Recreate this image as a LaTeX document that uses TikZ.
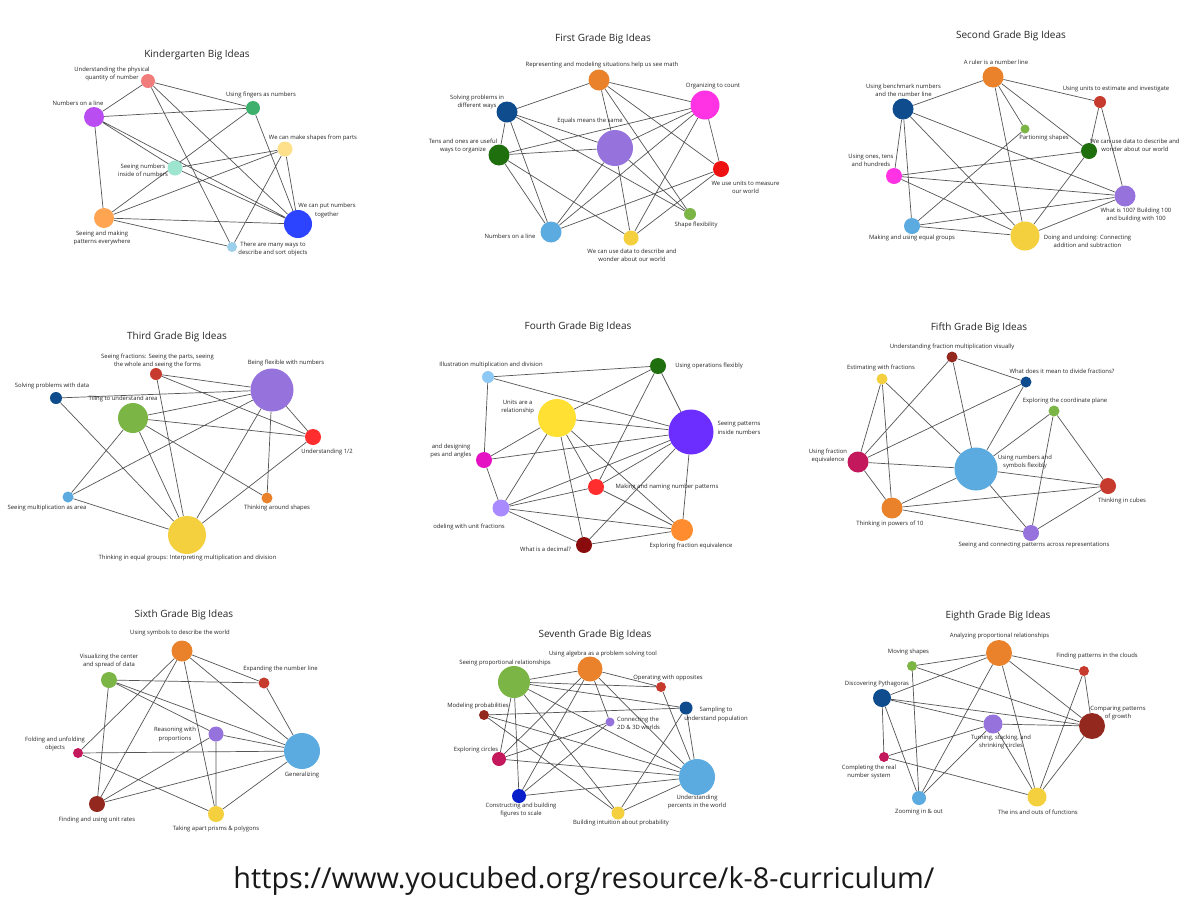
\documentclass[tikz,border=0pt]{standalone}
\usepackage{fontspec}
\setmainfont{Open Sans}
\usepackage{xcolor}
\usepackage{tikz}
\usetikzlibrary{positioning}

\definecolor{cSalmon}{HTML}{F07C7C}
\definecolor{cJade}{HTML}{3DB06E}
\definecolor{cOrchid}{HTML}{B94DF2}
\definecolor{cButter}{HTML}{FFE08A}
\definecolor{cMint}{HTML}{9DE5CF}
\definecolor{cPeach}{HTML}{FFA552}
\definecolor{cRoyal}{HTML}{2C44FF}
\definecolor{cSky}{HTML}{9CCFEA}
\definecolor{cTangerine}{HTML}{E9822B}
\definecolor{cFuchsia}{HTML}{FF33E3}
\definecolor{cNavy}{HTML}{0E4C8E}
\definecolor{cLilac}{HTML}{9572DC}
\definecolor{cForest}{HTML}{1F6F0E}
\definecolor{cScarlet}{HTML}{EE1111}
\definecolor{cLeaf}{HTML}{7BB545}
\definecolor{cAzure}{HTML}{5BAAE0}
\definecolor{cGold}{HTML}{F5D03E}
\definecolor{cBrick}{HTML}{C63B2E}
\definecolor{cCherry}{HTML}{FF2D2D}
\definecolor{cIce}{HTML}{8EC8F5}
\definecolor{cLemon}{HTML}{FFE033}
\definecolor{cViolet}{HTML}{6B2EFF}
\definecolor{cMagenta}{HTML}{E512C4}
\definecolor{cLavender}{HTML}{A98BFF}
\definecolor{cOrange}{HTML}{FF8C2E}
\definecolor{cMaroon}{HTML}{8A0B0B}
\definecolor{cWine}{HTML}{93281F}
\definecolor{cRaspberry}{HTML}{C3195C}
\definecolor{cBlue}{HTML}{0A1FCC}
\definecolor{wiregray}{HTML}{555555}

\newcommand{\ideafont}{\fontsize{5.9}{8.3}\selectfont}
\newcommand{\headfont}{\fontsize{10}{12}\selectfont}
\newcommand{\webfont}{\fontsize{28.8}{32}\selectfont}

\pgfdeclarelayer{paper}
\pgfdeclarelayer{wires}
\pgfsetlayers{paper,wires,main}

\begin{document}
\begin{tikzpicture}
						[
						   x = 1pt, y = -1pt,
						   idea/.style = {circle, inner sep=0pt, minimum size=#1},
						   lbl/.style = {font=\ideafont, align=center, inner sep=0pt, text=black!85},
						   heading/.style = {font=\headfont, inner sep=0pt, text=black!85},
						   link/.style = {draw=wiregray, line width=0.7pt},
						]
						\begin{pgfonlayer}{paper}
							\fill[white] (0,0) rectangle (1200,911);
						\end{pgfonlayer}
						\useasboundingbox (0,0) rectangle (1200,911);

						% Kindergarten
						\node[heading] (kHead) at (197,55) {Kindergarten Big Ideas};
						\node[idea=14, fill=cSalmon] (kQuant) at (148,81) {};
						\node[idea=14, fill=cJade] (kFing) at (253,108) {};
						\node[idea=20, fill=cOrchid] (kLine) at (94,117) {};
						\node[idea=15, fill=cButter] (kShape) at (285,149) {};
						\node[idea=15, fill=cMint] (kInside) at (175,168) {};
						\node[idea=20, fill=cPeach] (kPatt) at (104,218) {};
						\node[idea=28, fill=cRoyal] (kTog) at (298,224) {};
						\node[idea=10, fill=cSky] (kSort) at (232,247) {};
						\node[lbl] (kQuantL) at (112,74) {Understanding the physical\\quantity of number};
						\node[lbl] (kFingL) at (261,95) {Using fingers as numbers};
						\node[lbl] (kLineL) at (78,103) {Numbers on a line};
						\node[lbl] (kShapeL) at (313,138) {We can make shapes from parts};
						\node[lbl] (kInsideL) at (143,170) {Seeing numbers\\inside of numbers};
						\node[lbl] (kPattL) at (102,238) {Seeing and making\\patterns everywhere};
						\node[lbl] (kTogL) at (327,210.5) {We can put numbers\\together};
						\node[lbl] (kSortL) at (273,249) {There are many ways to\\describe and sort objects};

						% First grade
						\node[heading] (aHead) at (603,39) {First Grade Big Ideas};
						\node[idea=21, fill=cTangerine] (aRep) at (599,80) {};
						\node[idea=29, fill=cFuchsia] (aOrg) at (705,105) {};
						\node[idea=21, fill=cNavy] (aSolve) at (507,112) {};
						\node[idea=36, fill=cLilac] (aEq) at (615,148) {};
						\node[idea=21, fill=cForest] (aTens) at (499,155) {};
						\node[idea=16, fill=cScarlet] (aUnits) at (721,169) {};
						\node[idea=12, fill=cLeaf] (aShape) at (690,214) {};
						\node[idea=21, fill=cAzure] (aLine) at (551,232) {};
						\node[idea=15, fill=cGold] (aData) at (631,238) {};
						\node[lbl] (aRepL) at (602,65) {Representing and modeling situations help us see math};
						\node[lbl] (aOrgL) at (713,86) {Organizing to count};
						\node[lbl] (aSolveL) at (477,102) {Solving problems in\\different ways};
						\node[lbl] (aEqL) at (590,121) {Equals means the same};
						\node[lbl] (aTensL) at (463,146) {Tens and ones are useful\\ways to organize};
						\node[lbl] (aUnitsL) at (745.5,187.5) {We use units to measure\\our world};
						\node[lbl] (aShapeL) at (696,225) {Shape flexibility};
						\node[lbl] (aLineL) at (510,236) {Numbers on a line};
						\node[lbl] (aDataL) at (632,255) {We can use data to describe and\\wonder about our world};

						% Second grade
						\node[heading] (bHead) at (1011,36) {Second Grade Big Ideas};
						\node[idea=21, fill=cTangerine] (bRuler) at (993,77) {};
						\node[idea=21, fill=cNavy] (bBench) at (903,109) {};
						\node[idea=12, fill=cBrick] (bEst) at (1100,102) {};
						\node[idea=9, fill=cLeaf] (bPart) at (1025,129) {};
						\node[idea=16, fill=cForest] (bData) at (1089,151) {};
						\node[idea=16, fill=cFuchsia] (bOnes) at (894,176) {};
						\node[idea=21, fill=cLilac] (bHund) at (1125,196) {};
						\node[idea=16, fill=cAzure] (bGroup) at (912,226) {};
						\node[idea=29, fill=cGold] (bUndo) at (1025,236) {};
						\node[lbl] (bRulerL) at (996,62) {A ruler is a number line};
						\node[lbl] (bBenchL) at (903.5,90) {Using benchmark numbers\\and the number line};
						\node[lbl] (bEstL) at (1116,89) {Using units to estimate and investigate};
						\node[lbl] (bPartL) at (1044,138) {Partioning shapes};
						\node[lbl] (bDataL) at (1135,145) {We can use data to describe and\\wonder about our world};
						\node[lbl] (bOnesL) at (871,160.5) {Using ones, tens\\and hundreds};
						\node[lbl] (bHundL) at (1136,215) {What is 100? Building 100\\and building with 100};
						\node[lbl] (bGroupL) at (912,238) {Making and using equal groups};
						\node[lbl] (bUndoL) at (1087.5,241.5) {Doing and undoing: Connecting\\addition and subtraction};

						% Third grade
						\node[heading] (cHead) at (177,337) {Third Grade Big Ideas};
						\node[idea=12, fill=cBrick] (cFrac) at (156,374) {};
						\node[idea=43, fill=cLilac] (cFlex) at (272,390) {};
						\node[idea=12, fill=cNavy] (cData) at (56,398) {};
						\node[idea=30, fill=cLeaf] (cTile) at (133,418) {};
						\node[idea=16, fill=cCherry] (cHalf) at (313,437) {};
						\node[idea=11, fill=cAzure] (cArea) at (68,497) {};
						\node[idea=11, fill=cTangerine] (cShape) at (267,498) {};
						\node[idea=38, fill=cGold] (cGroup) at (187,535) {};
						\node[lbl] (cFracL) at (157.5,361) {Seeing fractions: Seeing the parts, seeing\\the whole and seeing the forms};
						\node[lbl] (cFlexL) at (286,363) {Being flexible with numbers};
						\node[lbl] (cDataL) at (52,386) {Solving problems with data};
						\node[lbl] (cTileL) at (123,399) {Tiling to understand area};
						\node[lbl] (cHalfL) at (327,452) {Understanding 1/2};
						\node[lbl] (cAreaL) at (47,508) {Seeing multiplication as area};
						\node[lbl] (cShapeL) at (277,508) {Thinking around shapes};
						\node[lbl] (cGroupL) at (187.5,558) {Thinking in equal groups: Interpreting multiplication and division};

						% Fourth grade
						\node[heading] (dHead) at (578,327) {Fourth Grade Big Ideas};
						\node[idea=12, fill=cIce] (dIllus) at (488,377) {};
						\node[idea=16, fill=cForest] (dOps) at (658,366) {};
						\node[idea=38, fill=cLemon] (dUnits) at (557,418) {};
						\node[idea=45, fill=cViolet] (dPatt) at (691,432) {};
						\node[idea=16, fill=cMagenta] (dDesign) at (484,460) {};
						\node[idea=16, fill=cCherry] (dMake) at (596,487) {};
						\node[idea=17, fill=cLavender] (dModel) at (501,508) {};
						\node[idea=22, fill=cOrange] (dEquiv) at (682,530) {};
						\node[idea=16, fill=cMaroon] (dDec) at (584,545) {};
						\node[lbl] (dIllusL) at (491,365) {Illustration multiplication and division};
						\node[lbl] (dOpsL) at (709,366) {Using operations flexibly};
						\node[lbl] (dUnitsL) at (517.7,406.7) {Units are a\\relationship};
						\node[lbl] (dPattL) at (739,428) {Seeing patterns\\inside numbers};
						\node[lbl] (dDesignL) at (451,451) {and designing\\pes and angles};
						\node[lbl] (dMakeL) at (667,487) {Making and naming number patterns};
						\node[lbl] (dModelL) at (469,527) {odeling with unit fractions};
						\node[lbl] (dEquivL) at (691,546) {Exploring fraction equivalence};
						\node[lbl] (dDecL) at (545.5,549) {What is a decimal?};

						% Fifth grade
						\node[heading] (eHead) at (979,328) {Fifth Grade Big Ideas};
						\node[idea=11, fill=cWine] (eMult) at (952,357) {};
						\node[idea=11, fill=cGold] (eEst) at (882,379) {};
						\node[idea=11, fill=cNavy] (eDiv) at (1026,382) {};
						\node[idea=11, fill=cLeaf] (eCoord) at (1054,411) {};
						\node[idea=21, fill=cRaspberry] (eEquiv) at (858,462) {};
						\node[idea=43, fill=cAzure] (eSym) at (976,469) {};
						\node[idea=16, fill=cBrick] (eCube) at (1108,486) {};
						\node[idea=21, fill=cTangerine] (ePow) at (892,508) {};
						\node[idea=16, fill=cLilac] (eSee) at (1031,533) {};
						\node[lbl] (eMultL) at (952,347) {Understanding fraction multiplication visually};
						\node[lbl] (eEstL) at (881,368) {Estimating with fractions};
						\node[lbl] (eDivL) at (1062,371) {What does it mean to divide fractions?};
						\node[lbl] (eCoordL) at (1065,401) {Exploring the coordinate plane};
						\node[lbl] (eEquivL) at (828,456) {Using fraction\\equivalence};
						\node[lbl] (eSymL) at (1025,462) {Using numbers and\\symbols flexibly};
						\node[lbl] (eCubeL) at (1122,501) {Thinking in cubes};
						\node[lbl] (ePowL) at (890,524) {Thinking in powers of 10};
						\node[lbl] (eSeeL) at (1034,545) {Seeing and connecting patterns across representations};

						% Sixth grade
						\node[heading] (fHead) at (184,615) {Sixth Grade Big Ideas};
						\node[idea=21, fill=cTangerine] (fSym) at (182,651) {};
						\node[idea=16, fill=cLeaf] (fData) at (109,680) {};
						\node[idea=11, fill=cBrick] (fLine) at (264,683) {};
						\node[idea=15, fill=cLilac] (fProp) at (216,734) {};
						\node[idea=10, fill=cRaspberry] (fFold) at (78,753) {};
						\node[idea=36, fill=cAzure] (fGen) at (302,751) {};
						\node[idea=16, fill=cWine] (fRate) at (97,804) {};
						\node[idea=16, fill=cGold] (fPrism) at (216,814) {};
						\node[lbl] (fSymL) at (180,633) {Using symbols to describe the world};
						\node[lbl] (fDataL) at (109,661) {Visualizing the center\\and spread of data};
						\node[lbl] (fLineL) at (280.5,669) {Expanding the number line};
						\node[lbl] (fPropL) at (175,734.5) {Reasoning with\\proportions};
						\node[lbl] (fFoldL) at (55,744) {Folding and unfolding\\objects};
						\node[lbl] (fGenL) at (302,775) {Generalizing};
						\node[lbl] (fRateL) at (97,820) {Finding and using unit rates};
						\node[lbl] (fPrismL) at (216,829) {Taking apart prisms \& polygons};

						% Seventh grade
						\node[heading] (gHead) at (595,635) {Seventh Grade Big Ideas};
						\node[idea=25, fill=cTangerine] (gAlg) at (590,669) {};
						\node[idea=32, fill=cLeaf] (gProp) at (514,682) {};
						\node[idea=10, fill=cBrick] (gOpp) at (661,687) {};
						\node[idea=10, fill=cWine] (gModel) at (484,715) {};
						\node[idea=13, fill=cNavy] (gSamp) at (686,708) {};
						\node[idea=9, fill=cLilac] (gConn) at (610,722) {};
						\node[idea=14, fill=cRaspberry] (gCirc) at (499,759) {};
						\node[idea=36, fill=cAzure] (gPerc) at (697,777) {};
						\node[idea=14, fill=cBlue] (gScale) at (519,796) {};
						\node[idea=13, fill=cGold] (gIntu) at (618,813) {};
						\node[lbl] (gAlgL) at (603,654) {Using algebra as a problem solving tool};
						\node[lbl] (gPropL) at (505,663) {Seeing proportional relationships};
						\node[lbl] (gOppL) at (668,678) {Operating with opposites};
						\node[lbl] (gModelL) at (478,706) {Modeling probabilities};
						\node[lbl] (gSampL) at (716,714.5) {Sampling to\\understand population};
						\node[lbl, anchor=west, align=left] (gConnL) at (617,723) {Connecting the\\2D \& 3D worlds};
						\node[lbl] (gCircL) at (476,750) {Exploring circles};
						\node[lbl] (gPercL) at (697,802) {Understanding\\percents in the world};
						\node[lbl] (gScaleL) at (521,810) {Constructing and building\\figures to scale};
						\node[lbl] (gIntuL) at (621,823) {Building intuition about probability};

						% Eighth grade
						\node[heading] (hHead) at (998,616) {Eighth Grade Big Ideas};
						\node[idea=26, fill=cTangerine] (hProp) at (999,653) {};
						\node[idea=10, fill=cLeaf] (hMove) at (912,666) {};
						\node[idea=10, fill=cBrick] (hCloud) at (1084,671) {};
						\node[idea=18, fill=cNavy] (hPyth) at (882,698) {};
						\node[idea=26, fill=cWine] (hGrow) at (1092,726) {};
						\node[idea=19, fill=cLilac] (hCirc) at (993,724) {};
						\node[idea=10, fill=cRaspberry] (hReal) at (884,757) {};
						\node[idea=14, fill=cAzure] (hZoom) at (919,798) {};
						\node[idea=19, fill=cGold] (hFunc) at (1037,797) {};
						\node[lbl] (hPropL) at (999.5,636) {Analyzing proportional relationships};
						\node[lbl] (hMoveL) at (908.5,652) {Moving shapes};
						\node[lbl] (hCloudL) at (1097,656) {Finding patterns in the clouds};
						\node[lbl] (hPythL) at (877,684) {Discovering Pythagoras};
						\node[lbl] (hGrowL) at (1118,713) {Comparing patterns\\of growth};
						\node[lbl] (hCircL) at (1001,742) {Turning, stacking, and\\shrinking circles};
						\node[lbl] (hRealL) at (869,772) {Completing the real\\number system};
						\node[lbl] (hZoomL) at (919,812) {Zooming in \& out};
						\node[lbl] (hFuncL) at (1038,812) {The ins and outs of functions};

						\node[font=\webfont, inner sep=0pt, text=black!90] (web) at (584,881) {https://www.youcubed.org/resource/k-8-curriculum/};

						\begin{pgfonlayer}{wires}
							% Kindergarten
							\draw[link] (kQuant) -- (kLine) (kQuant) -- (kFing) (kQuant) -- (kSort) (kQuant) -- (kTog)
								(kLine) -- (kFing) (kLine) -- (kPatt) (kLine) -- (kInside) (kLine) -- (kTog)
								(kFing) -- (kPatt) (kFing) -- (kTog)
								(kInside) -- (kShape) (kInside) -- (kTog)
								(kPatt) -- (kShape) (kPatt) -- (kTog) (kPatt) -- (kSort)
								(kShape) -- (kSort) (kShape) -- (kTog);
							% First grade
							\draw[link] (aRep) -- (aSolve) (aRep) -- (aOrg) (aRep) -- (aEq) (aRep) -- (aShape) (aRep) -- (aUnits)
								(aSolve) -- (aTens) (aSolve) -- (aEq) (aSolve) -- (aLine) (aSolve) -- (aShape)
								(aTens) -- (aOrg) (aTens) -- (aEq) (aTens) -- (aLine) (aTens) -- (aData)
								(aEq) -- (aOrg) (aEq) -- (aLine) (aEq) -- (aData) (aEq) -- (aShape)
								(aOrg) -- (aLine) (aOrg) -- (aData) (aOrg) -- (aUnits)
								(aUnits) -- (aLine) (aUnits) -- (aData);
							% Second grade
							\draw[link] (bRuler) -- (bBench) (bRuler) -- (bEst) (bRuler) -- (bPart) (bRuler) -- (bData) (bRuler) -- (bUndo)
								(bBench) -- (bOnes) (bBench) -- (bGroup) (bBench) -- (bUndo) (bBench) -- (bHund)
								(bEst) -- (bData) (bEst) -- (bHund)
								(bPart) -- (bGroup)
								(bData) -- (bOnes) (bData) -- (bUndo)
								(bOnes) -- (bHund) (bOnes) -- (bUndo)
								(bGroup) -- (bHund) (bGroup) -- (bUndo)
								(bUndo) -- (bHund);
							% Third grade
							\draw[link] (cFrac) -- (cFlex) (cFrac) -- (cHalf) (cFrac) -- (cGroup)
								(cData) -- (cFlex) (cData) -- (cGroup)
								(cTile) -- (cFlex) (cTile) -- (cHalf) (cTile) -- (cArea) (cTile) -- (cGroup) (cTile) -- (cShape)
								(cFlex) -- (cArea) (cFlex) -- (cHalf) (cFlex) -- (cShape) (cFlex) -- (cGroup)
								(cHalf) -- (cGroup)
								(cArea) -- (cGroup);
							% Fourth grade
							\draw[link] (dIllus) -- (dOps) (dIllus) -- (dPatt) (dIllus) -- (dDesign)
								(dOps) -- (dUnits) (dOps) -- (dPatt) (dOps) -- (dMake)
								(dUnits) -- (dPatt) (dUnits) -- (dDesign) (dUnits) -- (dModel) (dUnits) -- (dMake) (dUnits) -- (dDec) (dUnits) -- (dEquiv)
								(dPatt) -- (dDesign) (dPatt) -- (dModel) (dPatt) -- (dMake) (dPatt) -- (dDec) (dPatt) -- (dEquiv)
								(dDesign) -- (dModel)
								(dModel) -- (dMake) (dModel) -- (dEquiv) (dModel) -- (dDec)
								(dMake) -- (dEquiv)
								(dDec) -- (dEquiv);
							% Fifth grade
							\draw[link] (eMult) -- (eEquiv) (eMult) -- (eDiv) (eMult) -- (eSym)
								(eEst) -- (eEquiv) (eEst) -- (ePow) (eEst) -- (eSym)
								(eDiv) -- (eEquiv) (eDiv) -- (eSym)
								(eCoord) -- (eSym) (eCoord) -- (eSee) (eCoord) -- (eCube)
								(eEquiv) -- (eSym) (eEquiv) -- (ePow)
								(eSym) -- (eCube) (eSym) -- (ePow) (eSym) -- (eSee)
								(ePow) -- (eCube) (ePow) -- (eSee)
								(eCube) -- (eSee);
							% Sixth grade
							\draw[link] (fSym) -- (fLine) (fSym) -- (fGen) (fSym) -- (fFold) (fSym) -- (fRate) (fSym) -- (fPrism)
								(fData) -- (fLine) (fData) -- (fProp) (fData) -- (fGen) (fData) -- (fRate)
								(fLine) -- (fGen)
								(fProp) -- (fGen) (fProp) -- (fRate) (fProp) -- (fPrism)
								(fFold) -- (fGen) (fFold) -- (fPrism)
								(fRate) -- (fGen)
								(fGen) -- (fPrism);
							% Seventh grade
							\draw[link] (gProp) -- (gAlg) (gProp) -- (gOpp) (gProp) -- (gSamp) (gProp) -- (gPerc) (gProp) -- (gCirc) (gProp) -- (gScale) (gProp) -- (gIntu)
								(gAlg) -- (gOpp) (gAlg) -- (gConn) (gAlg) -- (gCirc) (gAlg) -- (gScale) (gAlg) -- (gPerc)
								(gOpp) -- (gPerc)
								(gModel) -- (gSamp) (gModel) -- (gPerc) (gModel) -- (gIntu)
								(gSamp) -- (gPerc) (gSamp) -- (gIntu)
								(gConn) -- (gCirc) (gConn) -- (gScale)
								(gCirc) -- (gPerc)
								(gScale) -- (gPerc)
								(gIntu) -- (gPerc);
							% Eighth grade
							\draw[link] (hProp) -- (hMove) (hProp) -- (hPyth) (hProp) -- (hCloud) (hProp) -- (hGrow) (hProp) -- (hZoom) (hProp) -- (hFunc)
								(hMove) -- (hGrow) (hMove) -- (hZoom)
								(hCloud) -- (hGrow) (hCloud) -- (hFunc)
								(hPyth) -- (hCirc) (hPyth) -- (hGrow) (hPyth) -- (hReal) (hPyth) -- (hZoom)
								(hCirc) -- (hGrow) (hCirc) -- (hReal) (hCirc) -- (hZoom) (hCirc) -- (hFunc)
								(hReal) -- (hFunc)
								(hGrow) -- (hFunc);
						\end{pgfonlayer}
					\end{tikzpicture}
\end{document}
